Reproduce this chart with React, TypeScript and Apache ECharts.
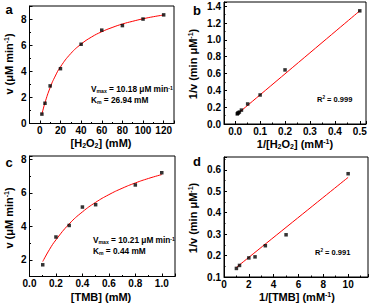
import React, { useEffect, useRef } from 'react';
import * as echarts from 'echarts';

// Panel a: Michaelis-Menten, varying H2O2
const h2o2Conc = [2, 5, 10, 20, 40, 60, 80, 100, 120];
const h2o2Rate = [0.72, 1.55, 2.88, 4.2, 6.07, 7.15, 7.5, 8.0, 8.32];
const h2o2FitX = [2, 5, 10, 15, 20, 30, 40, 50, 60, 70, 80, 90, 100, 110, 120];
const h2o2FitV = [0.7, 1.59, 2.75, 3.64, 4.34, 5.36, 6.08, 6.62, 7.03, 7.35, 7.62, 7.83, 8.02, 8.18, 8.31];

// Panel b: Lineweaver-Burk, H2O2
const h2o2InvConc = [0.5, 0.2, 0.1, 0.05, 0.025, 0.0167, 0.0125, 0.01, 0.0083];
const h2o2InvRate = [1.345, 0.643, 0.345, 0.238, 0.165, 0.142, 0.133, 0.127, 0.12];
const h2o2LineX = [0.0083, 0.5];
const h2o2LineY = [0.118, 1.345];

// Panel c: Michaelis-Menten, varying TMB
const tmbConc = [0.1, 0.2, 0.3, 0.4, 0.5, 0.8, 1.0];
const tmbRate = [1.7, 3.36, 4.05, 5.15, 5.29, 6.47, 7.2];
const tmbFitX = [0.1, 0.15, 0.2, 0.3, 0.4, 0.5, 0.6, 0.7, 0.8, 0.9, 1.0];
const tmbFitV = [1.89, 2.6, 3.19, 4.14, 4.86, 5.43, 5.89, 6.27, 6.59, 6.86, 7.09];

// Panel d: Lineweaver-Burk, TMB
const tmbInvConc = [1, 1.25, 2, 2.5, 3.33, 5, 10];
const tmbInvRate = [0.14, 0.154, 0.189, 0.194, 0.246, 0.297, 0.582];
const tmbLineX = [1, 10];
const tmbLineY = [0.145, 0.565];

const FONT = '"Liberation Sans", Arial, sans-serif';

const zip = (xs: number[], ys: number[]) => xs.map((x, i) => [x, ys[i]]);

const fmt = (step: number, digits: number) => (v: number) => {
  const k = v / step;
  return Math.abs(k - Math.round(k)) < 1e-6 ? v.toFixed(digits) : '';
};

function axis(gridIndex: number, min: number, max: number, step: number, digits: number, useInterval: boolean, splitNumber?: number, margin = 3) {
  const a: any = {
    type: 'value',
    gridIndex,
    min,
    max,
    axisLine: { show: true, onZero: false, lineStyle: { color: '#000', width: 1 } },
    axisTick: { show: true, inside: true, length: 3, lineStyle: { color: '#000', width: 1 } },
    minorTick: { show: true, splitNumber: 2, length: 1.5, lineStyle: { color: '#000', width: 1 } },
    splitLine: { show: false },
    axisLabel: {
      color: '#000',
      fontFamily: FONT,
      fontWeight: 'bold',
      fontSize: 10,
      margin,
      formatter: fmt(step, digits),
    },
  };
  if (useInterval) a.interval = step;
  else a.splitNumber = splitNumber;
  return a;
}

const grids = [
  { left: 29.5, top: 6, width: 144.5, height: 117.5 },
  { left: 224, top: 2, width: 142, height: 122 },
  { left: 29.5, top: 156, width: 145.5, height: 120.5 },
  { left: 224, top: 157, width: 144, height: 120 },
];

const scatter = (i: number, data: number[][]) => ({
  type: 'scatter',
  xAxisIndex: i,
  yAxisIndex: i,
  data,
  symbol: 'rect',
  symbolSize: 3.5,
  itemStyle: { color: '#000' },
  z: 3,
});

const line = (i: number, data: number[][]) => ({
  type: 'line',
  xAxisIndex: i,
  yAxisIndex: i,
  data,
  showSymbol: false,
  symbol: 'none',
  smooth: true,
  lineStyle: { color: '#ff0000', width: 1 },
  z: 2,
});

const ytitle = (x: number, y: number, rich: string) => ({
  type: 'text',
  x,
  y,
  rotation: Math.PI / 2,
  style: {
    text: rich,
    fill: '#000',
    fontFamily: FONT,
    fontWeight: 'bold',
    fontSize: 11,
    align: 'center',
    verticalAlign: 'middle',
    rich: {
      sup: { fontSize: 7, fontWeight: 'bold', fontFamily: FONT, verticalAlign: 'top', padding: [0, 0, 5, 0] },
    },
  },
});

const xtitle = (x: number, y: number, text: string) => ({
  type: 'text',
  x,
  y,
  style: {
    text,
    fill: '#000',
    fontFamily: FONT,
    fontWeight: 'bold',
    fontSize: 11,
    align: 'center',
    verticalAlign: 'middle',
    rich: {
      sub: { fontSize: 7, fontWeight: 'bold', fontFamily: FONT, padding: [5, 0, 0, 0] },
      sup: { fontSize: 7, fontWeight: 'bold', fontFamily: FONT, padding: [0, 0, 5, 0] },
    },
  },
});

const letter = (x: number, y: number, t: string) => ({
  type: 'text',
  x,
  y,
  style: { text: t, fill: '#000', fontFamily: FONT, fontWeight: 'bold', fontSize: 13, align: 'center', verticalAlign: 'middle' },
});

const note = (x: number, y: number, text: string, size = 8.3) => ({
  type: 'text',
  x,
  y,
  style: {
    text,
    fill: '#000',
    fontFamily: FONT,
    fontWeight: 'bold',
    fontSize: size,
    align: 'left',
    verticalAlign: 'middle',
    rich: {
      sub: { fontSize: size * 0.62, fontWeight: 'bold', fontFamily: FONT, padding: [3, 0, 0, 0] },
      sup: { fontSize: size * 0.62, fontWeight: 'bold', fontFamily: FONT, padding: [0, 0, 3, 0] },
    },
  },
});

export default function App() {
  const ref = useRef<HTMLDivElement>(null);
  useEffect(() => {
    if (!ref.current) return;
    const chart = echarts.init(ref.current, undefined, { renderer: 'svg' });
    chart.setOption({
      animation: false,
      grid: grids.map((g) => ({ ...g, show: true, borderColor: '#000', borderWidth: 1, backgroundColor: 'transparent' })),
      xAxis: [
        axis(0, -10, 130, 20, 0, false, 7, 2),
        axis(1, -0.045, 0.525, 0.1, 1, false, 5, 2),
        axis(2, 0, 1.1, 0.2, 1, true, undefined, 2),
        axis(3, 0, 11.6, 2, 0, true, undefined, 2),
      ],
      yAxis: [
        axis(0, 0, 9, 2, 0, true),
        axis(1, 0, 1.45, 0.2, 1, true),
        axis(2, 1, 8.2, 2, 0, false, 4),
        axis(3, 0.1, 0.66, 0.1, 1, true),
      ],
      series: [
        line(0, zip(h2o2FitX, h2o2FitV)),
        scatter(0, zip(h2o2Conc, h2o2Rate)),
        line(1, zip(h2o2LineX, h2o2LineY)),
        scatter(1, zip(h2o2InvConc, h2o2InvRate)),
        line(2, zip(tmbFitX, tmbFitV)),
        scatter(2, zip(tmbConc, tmbRate)),
        line(3, zip(tmbLineX, tmbLineY)),
        scatter(3, zip(tmbInvConc, tmbInvRate)),
      ],
      graphic: [
        letter(9, 9, 'a'),
        letter(197, 10, 'b'),
        letter(9, 162, 'c'),
        letter(197, 161, 'd'),
        ytitle(9, 64, 'v (μM min{sup|-1})'),
        ytitle(193, 64, '1/v (min μM{sup|-1})'),
        ytitle(9, 218, 'v (μM min{sup|-1})'),
        ytitle(193, 218, '1/v (min μM{sup|-1})'),
        xtitle(101, 143, '[H{sub|2}O{sub|2}] (mM)'),
        xtitle(295, 144, '1/[H{sub|2}O{sub|2}] (mM{sup|-1})'),
        xtitle(101, 297, '[TMB] (mM)'),
        xtitle(297, 297, '1/[TMB] (mM{sup|-1})'),
        note(91, 89, 'V{sub|max} = 10.18 μM min{sup|-1}'),
        note(91, 100, 'K{sub|m} = 26.94 mM'),
        note(317, 99, 'R{sup|2} = 0.999', 7.5),
        note(93, 240, 'V{sub|max} = 10.21 μM min{sup|-1}'),
        note(93, 251, 'K{sub|m} = 0.44 mM'),
        note(315, 252, 'R{sup|2} = 0.991', 7.5),
      ],
    });
    return () => chart.dispose();
  }, []);
  return <div ref={ref} style={{ position: 'absolute', left: 0, top: 0, width: 375, height: 305 }} />;
}
